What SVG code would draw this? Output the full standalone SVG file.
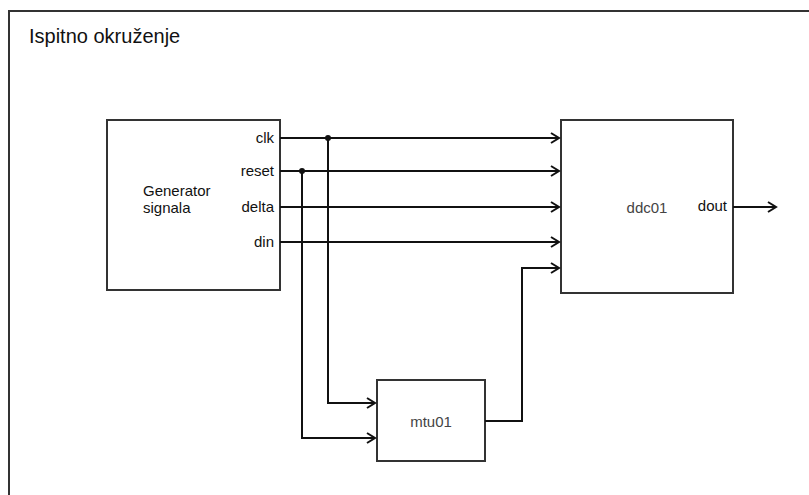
<svg xmlns="http://www.w3.org/2000/svg" width="809" height="495" viewBox="0 0 809 495">
<style>
.box{fill:#fff;stroke:#333;stroke-width:2}
.w{fill:none;stroke:#111;stroke-width:2}
.t{font-family:"Liberation Sans",Arial,sans-serif;font-size:15px;fill:#111}
.g{fill:#444}
</style>
<defs>
<marker id="ah" markerWidth="12" markerHeight="12" refX="10" refY="6" orient="auto" markerUnits="userSpaceOnUse">
<path d="M2,1 L10,6 L2,11" fill="none" stroke="#111" stroke-width="2"/>
</marker>
</defs>
<rect x="9" y="11" width="820" height="500" fill="#fff" stroke="#333" stroke-width="2"/>
<text class="t" x="29" y="43" style="font-size:20px">Ispitno okruženje</text>
<g id="generator">
<rect class="box" x="107" y="120" width="173" height="170"/>
<text class="t" x="143" y="196">Generator</text>
<text class="t" x="143" y="213">signala</text>
<text class="t" x="274" y="143" text-anchor="end">clk</text>
<text class="t" x="274" y="176" text-anchor="end">reset</text>
<text class="t" x="274" y="212" text-anchor="end">delta</text>
<text class="t" x="274" y="247" text-anchor="end">din</text>
</g>
<g id="ddc01">
<rect class="box" x="561" y="120" width="172" height="173"/>
<text class="t g" x="647" y="213" text-anchor="middle">ddc01</text>
<text class="t" x="727" y="211" text-anchor="end">dout</text>
</g>
<g id="mtu01">
<rect class="box" x="377" y="380" width="108" height="81"/>
<text class="t g" x="431" y="427" text-anchor="middle">mtu01</text>
</g>
<g id="connectors">
<path class="w" d="M280,138 H559" marker-end="url(#ah)"/>
<path class="w" d="M280,171 H559" marker-end="url(#ah)"/>
<path class="w" d="M280,207 H559" marker-end="url(#ah)"/>
<path class="w" d="M280,242 H559" marker-end="url(#ah)"/>
<path class="w" d="M328,138 V403 H375" marker-end="url(#ah)"/>
<path class="w" d="M302,171 V438 H375" marker-end="url(#ah)"/>
<path class="w" d="M485,421 H522 V268 H559" marker-end="url(#ah)"/>
<path class="w" d="M733,207 H776" marker-end="url(#ah)"/>
<circle cx="328" cy="138" r="3" fill="#111"/>
<circle cx="302" cy="171" r="3" fill="#111"/>
</g>
</svg>
